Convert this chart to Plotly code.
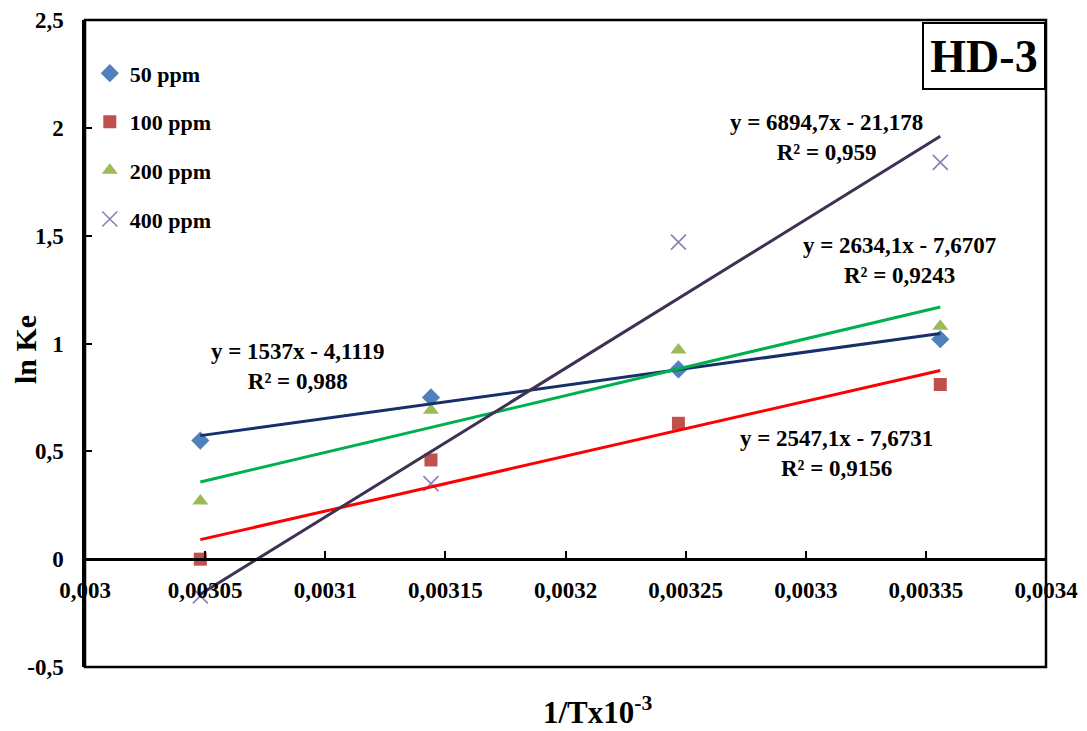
import plotly.graph_objects as go

# ---- data ----
x_vals = [0.003048, 0.003144, 0.003247, 0.003356]
series_names = ["50 ppm", "100 ppm", "200 ppm", "400 ppm"]
y_50 = [0.55, 0.75, 0.88, 1.02]
y_100 = [0.00, 0.46, 0.63, 0.81]
y_200 = [0.27, 0.69, 0.97, 1.08]
y_400 = [-0.17, 0.35, 1.47, 1.84]
slopes = [1537.0, 2547.1, 2634.1, 6894.7]
intercepts = [-4.1119, -7.6731, -7.6707, -21.178]
eq_labels = [
    "y = 1537x - 4,1119<br>R² = 0,988",
    "y = 2547,1x - 7,6731<br>R² = 0,9156",
    "y = 2634,1x - 7,6707<br>R² = 0,9243",
    "y = 6894,7x - 21,178<br>R² = 0,959",
]
eq_pos = [(0.0030885, 0.893), (0.0033126, 0.488), (0.0033392, 1.383), (0.0033088, 1.955)]
x_ticks = [0.003, 0.00305, 0.0031, 0.00315, 0.0032, 0.00325, 0.0033, 0.00335, 0.0034]
x_ticktext = ["0,003", "0,00305", "0,0031", "0,00315", "0,0032", "0,00325", "0,0033", "0,00335", "0,0034"]
y_ticks = [-0.5, 0, 0.5, 1, 1.5, 2, 2.5]
y_ticktext = ["-0,5", "0", "0,5", "1", "1,5", "2", "2,5"]

FONT = "Liberation Serif, Times New Roman, serif"
series_y = [y_50, y_100, y_200, y_400]
marker_styles = [
    dict(symbol="diamond", size=14, color="#4F81BD"),
    dict(symbol="square", size=13, color="#C0504D"),
    dict(symbol="triangle-up", size=14, color="#9BBB59"),
    dict(symbol="x-thin-open", size=15, color="#8E7CB8", line=dict(color="#8E7CB8", width=1.6)),
]
line_colors = ["#17306B", "#FF0000", "#00B050", "#403152"]

fig = go.Figure()
for i, name in enumerate(series_names):
    fig.add_trace(go.Scatter(
        x=x_vals, y=series_y[i], mode="markers", name=name,
        marker=marker_styles[i], legendgroup=name, showlegend=True,
    ))
for i, name in enumerate(series_names):
    xs = [x_vals[0], x_vals[-1]]
    ys = [slopes[i] * xv + intercepts[i] for xv in xs]
    fig.add_trace(go.Scatter(
        x=xs, y=ys, mode="lines", line=dict(color=line_colors[i], width=3),
        showlegend=False, hoverinfo="skip",
    ))

for (ex, ey), txt in zip(eq_pos, eq_labels):
    fig.add_annotation(x=ex, y=ey, xref="x", yref="y", text=txt, showarrow=False,
                       xanchor="center", yanchor="middle",
                       font=dict(family=FONT, size=23, color="black", weight="bold"),
                       align="center")

# HD-3 box
fig.add_annotation(x=1, y=0.997, xref="paper", yref="paper", xanchor="right", yanchor="top",
                   text="HD-3", showarrow=False, width=118, height=62,
                   bordercolor="black", borderwidth=2, bgcolor="white",
                   font=dict(family=FONT, size=46, color="black", weight="bold"))

# axis titles
fig.add_annotation(x=-0.0614, y=0.4915, xref="paper", yref="paper", text="ln Ke",
                   textangle=-90, showarrow=False, xanchor="center", yanchor="middle",
                   font=dict(family=FONT, size=30, color="black", weight="bold"))
fig.add_annotation(x=0.534, y=-0.068, xref="paper", yref="paper", text="1/Tx10<sup>-3</sup>",
                   showarrow=False, xanchor="center", yanchor="middle",
                   font=dict(family=FONT, size=31, color="black", weight="bold"))

# plot area border
fig.add_shape(type="rect", xref="paper", yref="paper", x0=0, y0=0, x1=1, y1=1,
              line=dict(color="black", width=2.5), layer="above")

fig.update_layout(
    width=1079, height=723,
    margin=dict(l=77, r=41, t=12, b=64),
    paper_bgcolor="white", plot_bgcolor="white",
    font=dict(family=FONT, size=22, color="black"),
    legend=dict(x=0.005, y=0.95, xanchor="left", yanchor="top", bgcolor="rgba(0,0,0,0)",
                font=dict(family=FONT, size=22, color="black", weight="bold"),
                tracegroupgap=17, itemwidth=30),
    xaxis=dict(range=[0.003, 0.0034], tickvals=x_ticks, ticktext=x_ticktext,
               showgrid=False, zeroline=False, showline=True, linecolor="black", linewidth=2.5,
               ticks="inside", ticklen=7, tickwidth=2, tickcolor="black",
               anchor="free", position=1/6, ticklabelstandoff=9, automargin=False,
               tickfont=dict(family=FONT, size=23, color="black", weight="bold")),
    yaxis=dict(range=[-0.5, 2.5], tickvals=y_ticks, ticktext=y_ticktext,
               showgrid=False, zeroline=False, showline=True, linecolor="black", linewidth=2.5,
               ticks="inside", ticklen=7, tickwidth=2, tickcolor="black",
               ticklabelstandoff=14, automargin=False,
               tickfont=dict(family=FONT, size=23, color="black", weight="bold")),
)

fig.write_html("out.html")
